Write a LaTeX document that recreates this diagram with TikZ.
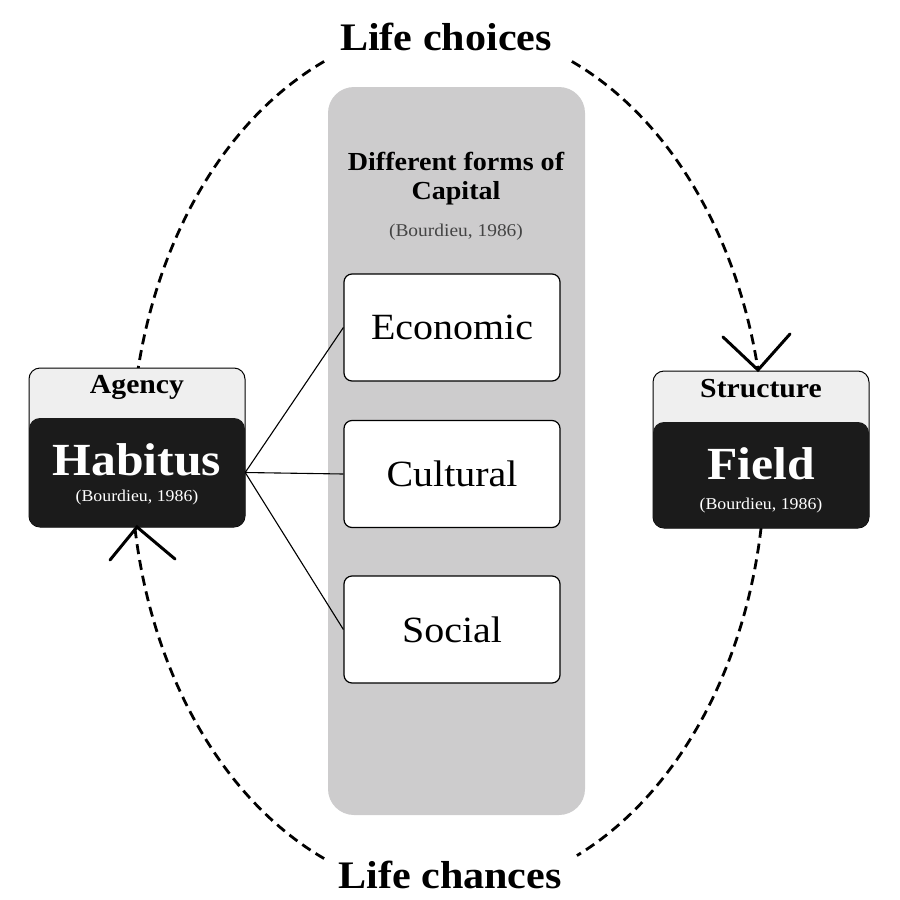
\documentclass[tikz,border=0pt]{standalone}
\usepackage{fontspec}
\setmainfont[FakeStretch=1.08]{Liberation Serif}
\usetikzlibrary{calc}
\definecolor{panelg}{HTML}{CDCCCD}
\definecolor{lightg}{HTML}{EFEFEF}
\definecolor{darkbox}{HTML}{1B1B1B}
\definecolor{refgray}{HTML}{444444}
\begin{document}
\begin{tikzpicture}[x=1pt,y=-1pt,
  dashline/.style={line width=2.8pt, dash pattern=on 10pt off 6pt},
  barb/.style={line width=3pt, line cap=round, line join=miter},
  capbox/.style={draw=black, line width=1.2pt, fill=white, rounded corners=8pt,
    minimum width=216pt, minimum height=107pt, inner sep=0pt,
    font=\fontsize{37}{40}\selectfont},
  outerbox/.style={draw=black, line width=1pt, fill=lightg, rounded corners=11pt,
    minimum width=216pt, inner sep=0pt},
  blackbox/.style={fill=darkbox, rounded corners=11pt, minimum width=216pt, inner sep=0pt},
  panel/.style={fill=panelg, rounded corners=26pt, minimum width=257pt,
    minimum height=728pt, inner sep=0pt},
  toplabel/.style={font=\fontsize{27.5}{30}\selectfont\bfseries, inner sep=0pt},
  bigname/.style={font=\fontsize{46}{50}\selectfont\bfseries, text=white, inner sep=0pt},
  smallref/.style={font=\fontsize{16.5}{18}\selectfont, text=white, inner sep=0pt},
  lifelabel/.style={font=\fontsize{39}{44}\selectfont\bfseries, inner sep=0pt}
]
\useasboundingbox (0,0) rectangle (900,900);

% central panel
\node[panel] (panel) at (456.5,451) {};
\node[font=\fontsize{26}{29}\selectfont\bfseries, align=center, inner sep=0pt] (title) at (456,179) {Different forms of\\Capital};
\node[font=\fontsize{18}{20}\selectfont, text=refgray, inner sep=0pt] (panelref) at (456,232) {(Bourdieu, 1986)};

% dashed cycle
\draw[dashline] plot[domain=113:168, samples=60] ({448+317*cos(\x)},{460-433*sin(\x)});
\draw[dashline] plot[domain=67:12, samples=60] ({448+317*cos(\x)},{460-433*sin(\x)});
\draw[dashline] plot[domain=247:189, samples=60] ({448+317*cos(\x)},{460-433*sin(\x)});
\draw[dashline] plot[domain=351:294, samples=60] ({448+317*cos(\x)},{460-433*sin(\x)});

% capital boxes
\node[capbox] (eco) at (452,327.5) {Economic};
\node[capbox] (cul) at (452,474) {Cultural};
\node[capbox] (soc) at (452,629.5) {Social};

% Habitus box
\node[outerbox, minimum height=159pt] (agencybox) at (137,447.5) {};
\node[blackbox, minimum height=109pt] (hab) at (137,472.5) {};
\node[toplabel] (agency) at (137,387) {Agency};
\node[bigname] (habname) at (137,460) {Habitus};
\node[smallref] (habref) at (137,498) {(Bourdieu, 1986)};

% Field box
\node[outerbox, minimum height=157pt] (structbox) at (761,449.5) {};
\node[blackbox, minimum height=106pt] (fld) at (761,475) {};
\node[toplabel] (structure) at (761,389) {Structure};
\node[bigname] (fldname) at (761,464) {Field};
\node[smallref] (fldref) at (761,506) {(Bourdieu, 1986)};

% connectors habitus -> capitals
\draw[line width=1.1pt] (hab.east) -- (eco.west);
\draw[line width=1.1pt] (hab.east) -- (cul.west);
\draw[line width=1.1pt] (hab.east) -- (soc.west);

% arrowheads
\coordinate (tipfield) at (758,370);
\coordinate (tiphab) at (137,527);
\draw[barb] ($(tipfield)+(-35,-33)$) -- (tipfield) -- ($(tipfield)+(32,-36)$);
\draw[barb] ($(tiphab)+(-27,33)$) -- (tiphab) -- ($(tiphab)+(38,32)$);

% life labels
\node[lifelabel] (choices) at (446,37) {Life choices};
\node[lifelabel] (chances) at (450,875) {Life chances};
\end{tikzpicture}
\end{document}
